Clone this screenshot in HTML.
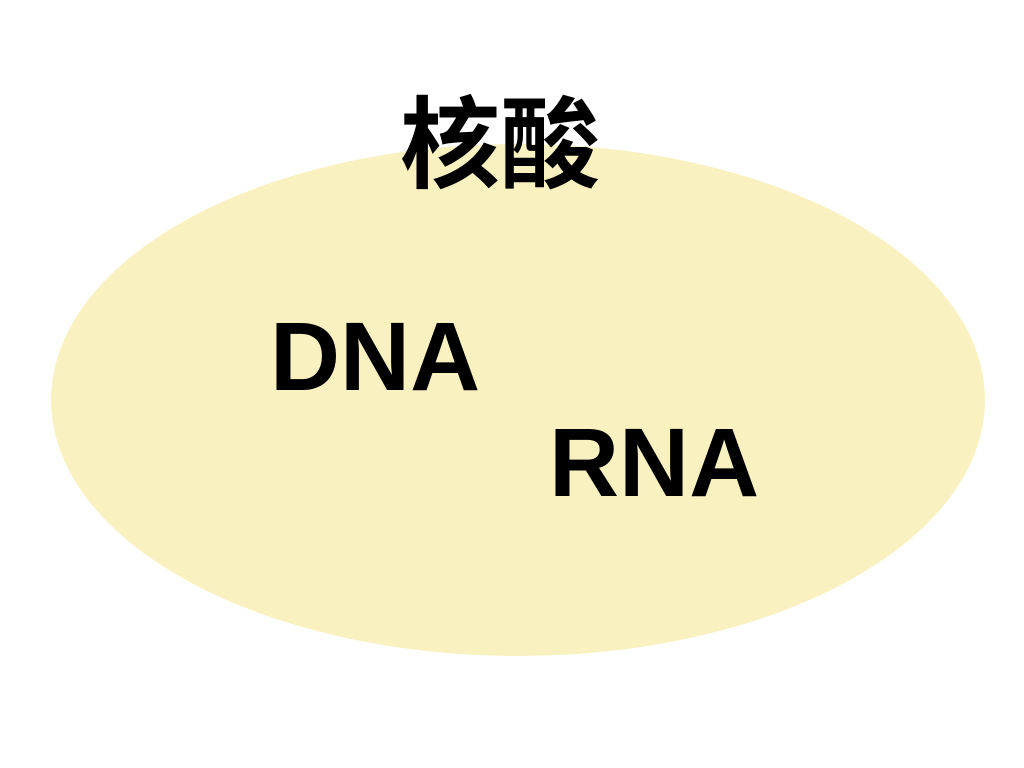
<!DOCTYPE html>
<html>
<head>
<meta charset="utf-8">
<style>
html,body{margin:0;padding:0;background:#fff;}
svg{display:block;}
</style>
</head>
<body>
<svg width="1024" height="768" viewBox="0 0 1024 768" xmlns="http://www.w3.org/2000/svg">
<rect width="1024" height="768" fill="#ffffff"/>
<ellipse cx="518" cy="400" rx="467" ry="256" fill="#FAF1C1"/>
<text x="500" y="180" text-anchor="middle" font-family="'Noto Sans CJK SC','WenQuanYi Zen Hei',sans-serif" font-weight="bold" font-size="100">核酸</text>
<text x="270" y="390" font-family="'Liberation Sans',Arial,sans-serif" font-weight="bold" font-size="97">DNA</text>
<text x="549" y="496" font-family="'Liberation Sans',Arial,sans-serif" font-weight="bold" font-size="97">RNA</text>
</svg>
</body>
</html>
